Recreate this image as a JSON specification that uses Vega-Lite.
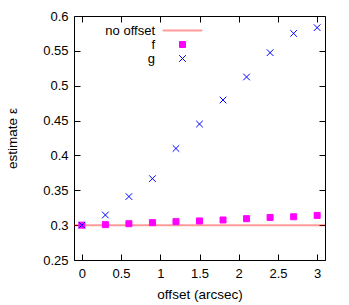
{
  "$schema": "https://vega.github.io/schema/vega-lite/v6.json",
  "width": 251,
  "height": 244,
  "autosize": "none",
  "padding": {"left": 74, "top": 16, "right": 24, "bottom": 45},
  "background": "white",
  "config": {
    "font": "Liberation Sans",
    "view": {"stroke": "black", "strokeWidth": 1},
    "axis": {
      "domain": false,
      "grid": false,
      "tickColor": "black",
      "tickSize": -6,
      "tickWidth": 1,
      "labelColor": "black",
      "labelFontSize": 13,
      "titleColor": "black",
      "titleFontSize": 13.5,
      "titleFontWeight": "normal",
      "labelFont": "Liberation Sans",
      "titleFont": "Liberation Sans"
    }
  },
  "datasets": {
    "ref": [{"series": "no offset", "y": 0.3}],
    "pts": [
      {"series": "f", "x": 0.0, "y": 0.300},
      {"series": "f", "x": 0.3, "y": 0.3007},
      {"series": "f", "x": 0.6, "y": 0.302},
      {"series": "f", "x": 0.9, "y": 0.3036},
      {"series": "f", "x": 1.2, "y": 0.305},
      {"series": "f", "x": 1.5, "y": 0.306},
      {"series": "f", "x": 1.8, "y": 0.3074},
      {"series": "f", "x": 2.1, "y": 0.3093},
      {"series": "f", "x": 2.4, "y": 0.311},
      {"series": "f", "x": 2.7, "y": 0.312},
      {"series": "f", "x": 3.0, "y": 0.314},
      {"series": "g", "x": 0.0, "y": 0.300},
      {"series": "g", "x": 0.3, "y": 0.3145},
      {"series": "g", "x": 0.6, "y": 0.341},
      {"series": "g", "x": 0.9, "y": 0.3667},
      {"series": "g", "x": 1.2, "y": 0.410},
      {"series": "g", "x": 1.5, "y": 0.445},
      {"series": "g", "x": 1.8, "y": 0.4795},
      {"series": "g", "x": 2.1, "y": 0.5125},
      {"series": "g", "x": 2.4, "y": 0.5474},
      {"series": "g", "x": 2.7, "y": 0.575},
      {"series": "g", "x": 3.0, "y": 0.5833}
    ]
  },
  "layer": [
    {
      "data": {"name": "ref"},
      "mark": {"type": "rule", "color": "#ff0000", "opacity": 0.4, "strokeWidth": 2},
      "encoding": {
        "y": {"field": "y", "type": "quantitative", "axis": null}
      }
    },
    {
      "data": {"name": "pts"},
      "mark": {"type": "point", "filled": true, "size": 36, "strokeWidth": 1, "opacity": 1},
      "encoding": {
        "x": {
          "field": "x", "type": "quantitative",
          "scale": {"domain": [-0.1, 3.1], "nice": false, "zero": false},
          "axis": {"orient": "bottom", "title": "offset (arcsec)", "values": [0, 0.5, 1, 1.5, 2, 2.5, 3], "format": ".1~f", "labelPadding": 13, "titlePadding": 7}
        },
        "y": {
          "field": "y", "type": "quantitative",
          "scale": {"domain": [0.25, 0.6], "nice": false, "zero": false},
          "axis": {"orient": "left", "title": "estimate ε", "values": [0.25, 0.3, 0.35, 0.4, 0.45, 0.5, 0.55, 0.6], "format": ".2~f", "labelPadding": 12, "titlePadding": 23}
        },
        "color": {
          "field": "series", "type": "nominal",
          "scale": {"domain": ["no offset", "f", "g"], "range": ["#ff9c9c", "#ff00ff", "#0000ff"]},
          "legend": {
            "title": null,
            "orient": "none",
            "legendX": 58,
            "legendY": 8,
            "labelAlign": "right",
            "labelOffset": -34,
            "symbolOffset": 44,
            "symbolSize": 36,
            "symbolStrokeWidth": 1,
            "labelFontSize": 13,
            "labelColor": "black",
            "rowPadding": -0.5
          }
        },
        "stroke": {
          "field": "series", "type": "nominal",
          "scale": {"domain": ["no offset", "f", "g"], "range": ["#ff9c9c", "#ff00ff", "#0000ff"]},
          "legend": null
        },
        "shape": {
          "field": "series", "type": "nominal",
          "scale": {"domain": ["no offset", "f", "g"], "range": ["M-6.5,-0.17H6.5V0.17H-6.5Z", "square", "M-1.1,-1.1L1.1,1.1M-1.1,1.1L1.1,-1.1"]}
        }
      }
    },
    {
      "data": {"name": "pts"},
      "mark": {"type": "point", "opacity": 0},
      "encoding": {
        "x": {
          "field": "x", "type": "quantitative",
          "axis": {"orient": "top", "title": null, "labels": false, "values": [0, 0.5, 1, 1.5, 2, 2.5, 3]}
        },
        "y": {
          "field": "y", "type": "quantitative",
          "axis": {"orient": "right", "title": null, "labels": false, "values": [0.25, 0.3, 0.35, 0.4, 0.45, 0.5, 0.55, 0.6]}
        }
      }
    }
  ],
  "resolve": {"axis": {"x": "independent", "y": "independent"}}
}
